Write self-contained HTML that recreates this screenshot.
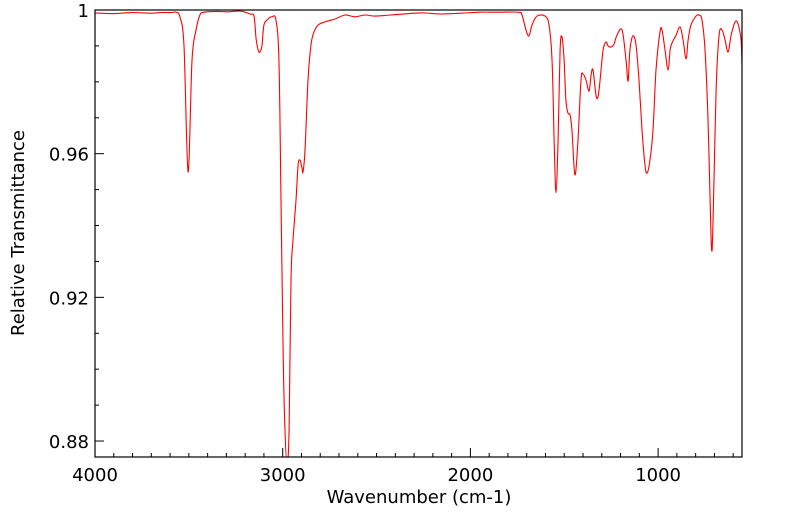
<!DOCTYPE html>
<html><head><meta charset="utf-8"><style>
body{margin:0;background:#fff;}
svg{display:block;font-family:"DejaVu Sans","Liberation Sans",sans-serif;}
</style></head><body>
<svg id="chart" width="799" height="516" viewBox="0 0 799 516">
<rect x="95" y="10" width="647" height="447" fill="#fff"/>
<g id="ticks"></g>
<clipPath id="clip"><rect x="95" y="10" width="647" height="447"/></clipPath>
<path id="line" fill="none" stroke="#ff0000" stroke-width="1.1" clip-path="url(#clip)"/>
<rect x="95" y="10" width="647" height="447" fill="none" stroke="#000" stroke-width="1.2"/>
<text x="419" y="503" font-size="18" text-anchor="middle">Wavenumber (cm-1)</text>
<text transform="translate(24,233) rotate(-90)" font-size="18" text-anchor="middle">Relative Transmittance</text>
</svg>
<script>
const wavenumbers=[4000,3900,3800,3700,3650,3590,3568,3547,3526,3504,3483,3462,3441,3419,3350,3290,3227,3174,3153,3142,3131,3121,3110,3100,3078,3057,3036,3020,3009,2998,2988,2977,2966,2956,2945,2929,2918,2908,2897,2892,2881,2865,2849,2833,2812,2775,2721,2668,2615,2561,2508,2428,2268,2162,2050,1949,1850,1746,1725,1704,1688,1672,1645,1602,1581,1565,1554,1544,1533,1522,1512,1501,1491,1480,1469,1459,1443,1427,1411,1400,1384,1368,1357,1347,1331,1320,1309,1293,1277,1267,1251,1235,1219,1192,1171,1160,1150,1134,1118,1102,1086,1070,1059,1043,1027,1011,990,979,963,947,936,926,904,883,867,851,840,825,798,782,766,750,734,723,713,702,691,675,659,643,627,611,590,574,558,553];
const transmittance=[.9992,.9990,.9993,.9991,.9993,.9993,.9994,.9980,.9900,.9549,.9860,.9944,.9986,.9994,.9996,.9995,.9997,.9989,.9983,.9922,.9889,.9883,.9903,.9958,.9975,.9981,.9972,.9861,.9471,.9053,.8831,.8740,.8831,.9248,.9360,.9471,.9568,.9582,.9560,.9549,.9610,.9805,.9903,.9939,.9958,.9967,.9975,.9986,.9981,.9986,.9983,.9986,.9992,.9989,.9991,.9994,.9994,.9994,.9986,.9944,.9928,.9958,.9983,.9983,.9958,.9861,.9638,.9491,.9638,.9889,.9925,.9861,.9749,.9713,.9708,.9666,.9541,.9638,.9805,.9822,.9805,.9774,.9819,.9833,.9763,.9758,.9805,.9889,.9911,.9900,.9897,.9905,.9930,.9944,.9861,.9802,.9889,.9928,.9903,.9805,.9666,.9568,.9546,.9582,.9666,.9833,.9939,.9944,.9889,.9833,.9889,.9908,.9930,.9953,.9916,.9864,.9916,.9958,.9983,.9986,.9972,.9889,.9694,.9471,.9329,.9527,.9777,.9930,.9944,.9916,.9883,.9930,.9967,.9961,.9916,.9847];
const xTickLabels=[4000,3000,2000,1000];
const yTickLabels=[1,0.96,0.92,0.88];
const X0=95,X1=742,Y0=10,Y1=457;
const WMAX=4000,WMIN=4000-(X1-X0)/0.18770;
const TMAX=1,TMIN=1-(Y1-Y0)*0.0002784;
const xs=w=>X0+(WMAX-w)/(WMAX-WMIN)*(X1-X0);
const ys=t=>Y0+(TMAX-t)/(TMAX-TMIN)*(Y1-Y0);
const NS='http://www.w3.org/2000/svg';
const tg=document.getElementById('ticks');
function ln(x1,y1,x2,y2){const l=document.createElementNS(NS,'line');l.setAttribute('x1',x1);l.setAttribute('y1',y1);l.setAttribute('x2',x2);l.setAttribute('y2',y2);l.setAttribute('stroke','#000');l.setAttribute('stroke-width','1');


tg.appendChild(l);}
for(let w=4000;w>=WMIN;w-=100){const x=xs(w);const major=w%1000===0;ln(x,Y1,x,Y1-(major?9:4));}
for(let t=1;t>=TMIN-1e-9;t-=0.01){const y=ys(t);const major=Math.round(t*100)%4===0;ln(X0,y,X0+(major?9:4),y);}
xTickLabels.forEach(v=>{const t=document.createElementNS(NS,'text');t.setAttribute('x',xs(v));t.setAttribute('y',481);t.setAttribute('font-size','18');t.setAttribute('text-anchor','middle');t.textContent=v;


tg.appendChild(t);});
yTickLabels.forEach(v=>{const t=document.createElementNS(NS,'text');t.setAttribute('x',89);t.setAttribute('y',ys(v)+7);t.setAttribute('font-size','18');t.setAttribute('text-anchor','end');t.textContent=v;


tg.appendChild(t);});
const P=wavenumbers.map((w,i)=>[xs(w),ys(transmittance[i])]);
let d='M'+P[0][0].toFixed(1)+','+P[0][1].toFixed(1);
for(let i=0;i<P.length-1;i++){
  const p0=P[Math.max(0,i-1)],p1=P[i],p2=P[i+1],p3=P[Math.min(P.length-1,i+2)];
  const c1=[p1[0]+(p2[0]-p0[0])/6,p1[1]+(p2[1]-p0[1])/6];
  const c2=[p2[0]-(p3[0]-p1[0])/6,p2[1]-(p3[1]-p1[1])/6];
  d+='C'+c1[0].toFixed(1)+','+c1[1].toFixed(1)+' '+c2[0].toFixed(1)+','+c2[1].toFixed(1)+' '+p2[0].toFixed(1)+','+p2[1].toFixed(1);
}
document.getElementById('line').setAttribute('d',d);
</script>
</body></html>
